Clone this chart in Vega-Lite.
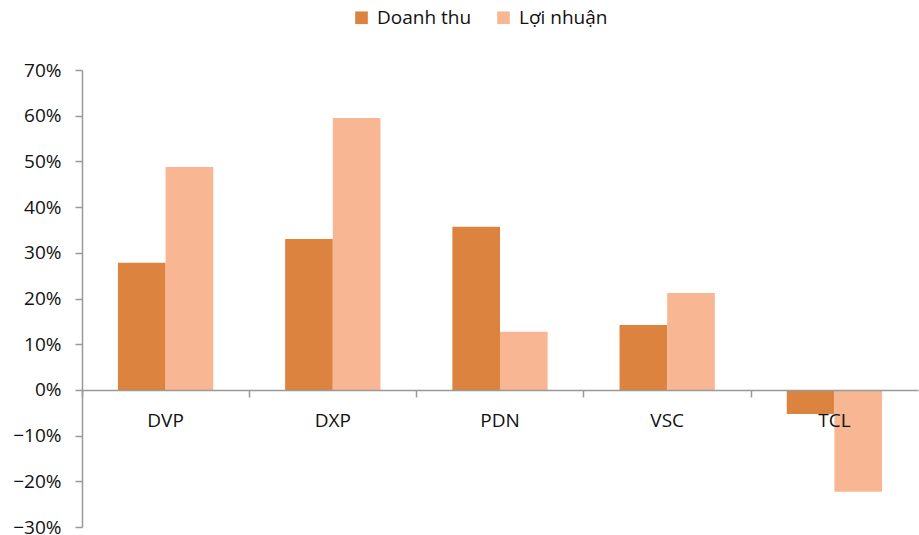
{
  "$schema": "https://vega.github.io/schema/vega-lite/v6.json",
  "width": 836,
  "height": 457,
  "autosize": "none",
  "padding": {"left": 82, "top": 70, "right": 1, "bottom": 8},
  "background": "white",
  "config": {
    "view": {"stroke": null},
    "font": "Open Sans",
    "axis": {"labelFont": "Open Sans", "labelFontSize": 19, "labelColor": "#111", "domainColor": "#999", "tickColor": "#999", "domainWidth": 1.5, "tickWidth": 1.5, "grid": false, "title": null},
    "legend": {"labelFont": "Open Sans", "labelFontSize": 19, "labelColor": "#111"}
  },
  "data": {
    "values": [
      {"ticker": "DVP", "series": "Doanh thu", "value": 0.278},
      {"ticker": "DVP", "series": "Lợi nhuận", "value": 0.488},
      {"ticker": "DXP", "series": "Doanh thu", "value": 0.330},
      {"ticker": "DXP", "series": "Lợi nhuận", "value": 0.595},
      {"ticker": "PDN", "series": "Doanh thu", "value": 0.357},
      {"ticker": "PDN", "series": "Lợi nhuận", "value": 0.127},
      {"ticker": "VSC", "series": "Doanh thu", "value": 0.142},
      {"ticker": "VSC", "series": "Lợi nhuận", "value": 0.212},
      {"ticker": "TCL", "series": "Doanh thu", "value": -0.053},
      {"ticker": "TCL", "series": "Lợi nhuận", "value": -0.223}
    ]
  },
  "mark": {"type": "bar"},
  "encoding": {
    "x": {
      "field": "ticker", "type": "nominal", "sort": ["DVP", "DXP", "PDN", "VSC", "TCL"],
      "scale": {"paddingInner": 0.43, "paddingOuter": 0.215},
      "axis": {"labelAngle": 0, "offset": -137, "bandPosition": -0.375, "tickSize": 7, "labelPadding": 14, "zindex": 1}
    },
    "xOffset": {"field": "series", "type": "nominal", "sort": ["Doanh thu", "Lợi nhuận"], "scale": {"paddingInner": 0, "paddingOuter": 0}},
    "y": {
      "field": "value", "type": "quantitative",
      "scale": {"domain": [-0.3, 0.7], "nice": false, "zero": false},
      "axis": {"format": ".0%", "values": [-0.3, -0.2, -0.1, 0, 0.1, 0.2, 0.3, 0.4, 0.5, 0.6, 0.7], "tickSize": 7, "labelPadding": 14}
    },
    "color": {
      "field": "series", "type": "nominal", "sort": ["Doanh thu", "Lợi nhuận"],
      "scale": {"domain": ["Doanh thu", "Lợi nhuận"], "range": ["#DC843F", "#F8B692"]},
      "legend": {"title": null, "orient": "none", "direction": "horizontal", "legendX": 270, "legendY": -62, "symbolType": "square", "symbolSize": 160, "symbolStrokeWidth": 0, "columnPadding": 22, "labelOffset": 6}
    }
  }
}
